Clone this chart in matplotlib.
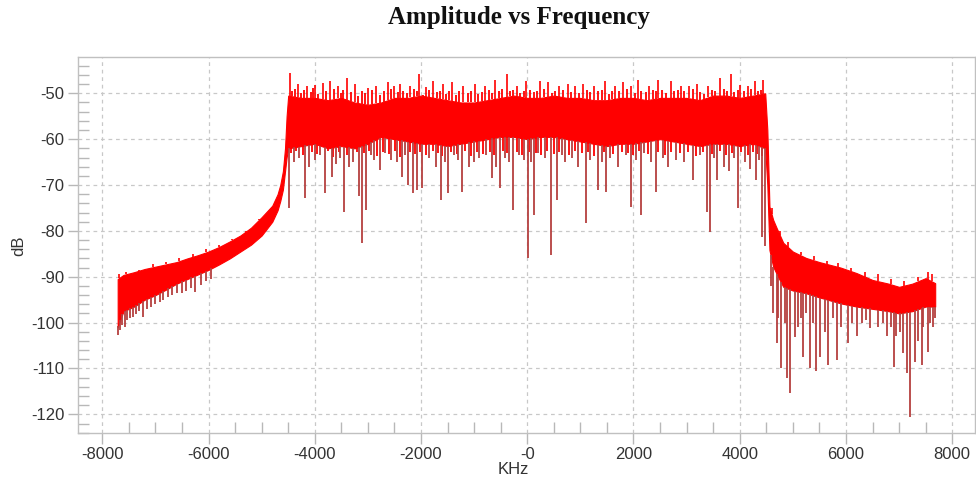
import numpy as np
import matplotlib
matplotlib.use('Agg')
import matplotlib.pyplot as plt
from matplotlib.ticker import MultipleLocator

plt.rcParams['axes.unicode_minus'] = False

# Spectrum: solid core of the band (top / low edge)
band_khz = [-7710, -7650, -7600, -7400, -7200, -7000, -6800, -6600, -6400, -6200,
            -6000, -5800, -5600, -5400, -5200, -5000, -4800, -4700, -4650, -4600,
            -4560, -4530,
            -4500, -4250, -4000, -3750, -3500, -3250, -3000, -2750, -2500, -2250,
            -2000, -1750, -1500, -1250, -1000, -750, -500, -250, 0, 250, 500, 750,
            1000, 1250, 1500, 1750, 2000, 2250, 2500, 2750, 3000, 3250, 3500, 3750,
            4000, 4250, 4480,
            4520, 4560, 4630, 4700, 4820, 5000, 5250, 5500, 5900, 6200, 6500, 6800,
            7000, 7250, 7500, 7680]
band_top = [-90.5, -90, -89.6, -89, -88.3, -87.8, -87.3, -86.8, -86, -85.3,
            -84.5, -83.5, -82.3, -81, -79.3, -77, -74.5, -72, -70, -67,
            -62, -55,
            -50.5, -51, -51, -51.5, -51, -52, -52.5, -52, -51, -51,
            -50.5, -51, -51.5, -52, -52, -51.5, -51, -50.5, -51, -51, -50.5, -51,
            -51, -51.5, -51.5, -51, -51, -51.5, -51, -51, -51, -51.5, -50.5, -50.5,
            -51, -50.5, -50,
            -58, -74.7, -77.6, -79.5, -82.6, -84.5, -85.9, -86.8, -88, -89.2, -90.7, -91.5,
            -92.2, -91.5, -90.3, -91.4]
band_low = [-101, -99, -97.5, -96.5, -95, -94, -92.8, -91.5, -90.5, -89.5,
            -88.5, -87.3, -86, -84.5, -83, -81, -78, -75.5, -73.5, -71,
            -67, -64,
            -62, -61.5, -61, -62, -61.5, -62, -61, -59.5, -60, -60.5,
            -61, -61, -61.5, -61, -60.5, -60, -59.5, -59.5, -60, -59.5, -59.5, -60,
            -60.5, -61, -61.5, -61, -61, -60.5, -60, -60.5, -61, -61.5, -61, -61,
            -61.5, -61, -62,
            -70, -84.2, -87.8, -89.5, -92.2, -93, -93.6, -94.5, -95.8, -96.5, -97, -97.5,
            -98, -97.5, -96.5, -96.5]

# upward peaks
peak_khz = [-7690, -7550, -7300, -7050, -6800, -6550, -6300, -6050, -5800, -5550, -5300, -5050,
            -4467, -4316, -4150, -3990, -3850, -3714, -3560, -3400, -3250, -3000, -2850,
            -2622, -2500, -2396, -2200, -2033, -1900, -1769, -1581, -1423, -1200, -985,
            -800, -608, -388, -200, -24, 239, 395, 600, 772, 900, 1054, 1250, 1463, 1650,
            1807, 1950, 2089, 2300, 2466, 2699, 2900, 3050, 3188, 3400, 3627, 3835, 4000,
            4150, 4287, 4442,
            4600, 4750, 4900, 5150, 5400, 5650, 5850, 6100, 6350, 6600, 6850, 7100, 7350,
            7550, 7620]
peak_db = [-89.5, -89, -88.5, -87.3, -86.8, -86, -85, -84, -83, -81.8, -80, -77.5,
           -45.6, -47.9, -48.5, -48.2, -47.8, -47.3, -48.5, -46.6, -48, -48.8, -48.3,
           -47.6, -48.5, -47.9, -48.5, -45.8, -48.6, -47.3, -48, -47.6, -48.4, -47.9,
           -48.5, -47.2, -45.8, -48.3, -47.3, -47.3, -47.6, -48.5, -48, -48.5, -47.9, -48.4, -47.3, -48.5,
           -47.6, -48.4, -47.2, -48.5, -47.2, -47.3, -48.4, -48.5, -48, -48.3, -46.6, -45.8, -48.2,
           -48.4, -47.3, -47.2,
           -75, -80, -82.5, -84.5, -85.5, -86.5, -87, -88, -89, -89.5, -90.5, -91, -90,
           -89, -89.5]

# small ripples on the top edge of the passband
ripple_top_khz = [-4420, -4370, -4260, -4200, -4080, -4040, -3930, -3790, -3640, -3500,
                  -3460, -3320, -3190, -3120, -3060, -2930, -2780, -2700, -2560, -2440,
                  -2330, -2270, -2130, -2080, -1960, -1840, -1700, -1640, -1520, -1470,
                  -1350, -1280, -1120, -1050, -920, -860, -720, -660, -540, -470,
                  -320, -260, -130, -70, 60, 120, 180, 310, 460, 530,
                  680, 830, 970, 1120, 1180, 1330, 1400, 1530, 1590, 1720,
                  1880, 2020, 2150, 2230, 2360, 2420, 2540, 2620, 2760, 2830,
                  2960, 3120, 3250, 3320, 3470, 3540, 3700, 3770, 3900, 3960,
                  4080, 4220, 4350, 4400]
ripple_top_db = [-49.5, -49, -50, -49.2, -49.8, -48.9, -50.2, -49.4, -49, -50,
                 -49.3, -49.8, -50.5, -49.6, -50, -49.2, -50.4, -49.5, -49, -49.8,
                 -49.4, -50, -49.1, -49.6, -50.3, -49.2, -49.8, -49.5, -50.1, -49.4,
                 -50.3, -49.6, -50, -49.4, -50.2, -49.7, -49.3, -50, -49.5, -49.1,
                 -49.6, -49.3, -50, -49.5, -49.2, -49.8, -49.4, -49.1, -49.9, -49.5,
                 -49.2, -49.7, -50, -49.3, -49.8, -49.5, -49.2, -50.1, -49.6, -49.4,
                 -49.1, -50, -49.4, -49.8, -49.3, -49.6, -49.2, -49.9, -49.5, -49.3,
                 -49.6, -49.1, -49.8, -50.2, -49.3, -49.5, -49, -49.4, -49.7, -49.2,
                 -49.5, -49, -49.4, -49.2]

# small ripples on the low edge of the passband
ripple_low_khz = [-4450, -4350, -4230, -4050, -3950, -3750, -3660, -3550, -3400, -3200,
                  -3080, -2980, -2820, -2720, -2600, -2480, -2400, -2200, -2120, -2020,
                  -1900, -1780, -1680, -1600, -1440, -1330, -1180, -1060, -950, -840,
                  -700, -620, -450, -380, -200, -100, 40, 160, 260, 380,
                  500, 600, 780, 900, 1040, 1140, 1250, 1450, 1620, 1780,
                  1900, 2000, 2100, 2280, 2460, 2600, 2700, 2880, 3020, 3180,
                  3300, 3480, 3620, 3740, 3850, 4020, 4150, 4250, 4330, 4420]
ripple_low_db = [-63, -62.5, -63.5, -62.8, -63.2, -62.6, -63.8, -62.9, -63.4, -62.7,
                 -63.1, -62.5, -63.6, -62.8, -63.3, -62.6, -63.9, -62.7, -63.2, -62.9,
                 -63.5, -62.6, -63, -63.7, -62.8, -63.2, -62.5, -63.6, -62.9, -63.3,
                 -62.7, -63.4, -62.6, -63.1, -62.8, -63.5, -62.7, -63, -63.4, -62.6,
                 -63.2, -62.8, -63.5, -62.6, -63.1, -62.9, -63.6, -62.7, -63.3, -62.8,
                 -63, -63.4, -62.6, -63.2, -62.9, -63.5, -62.7, -63.1, -62.8, -63.6,
                 -62.9, -63.3, -62.6, -63.5, -63, -62.8, -63.4, -62.7, -63.2, -63.6]

# downward dips
dip_khz = [-7700, -7660, -7620, -7580, -7540, -7480, -7420, -7360, -7300, -7230,
           -7150, -7080, -7000, -6920, -6850, -6760, -6680, -6600, -6500, -6420,
           -6330, -6250, -6150, -6050, -5950,
           -4480, -4184, -3808, -3682, -3450, -3168, -3117, -3036, -2773, -2364,
           -2240, -2157, -2082, -1988, -1630, -1487, -1235, -659, -514, -275,
           19, 126, 446, 554, 1099, 1336, 1481, 1952, 2140, 2423,
           3125, 3388, 3438, 3576, 3972, 4305, 4424, 4474,
           -4400, -4300, -4100, -4000, -3900, -3600, -3520, -3350, -3280, -2950,
           -2880, -2680, -2560, -2450, -2300, -1850, -1720, -1550, -1380, -1300,
           -1100, -1000, -900, -780, -580, -420, -340, -150, -60, 80,
           200, 330, 650, 720, 850, 950, 1180, 1400, 1560, 1700,
           1850, 2050, 2200, 2330, 2550, 2650, 2800, 2950, 3250, 3520,
           3700, 3800, 3900, 4100, 4200, 4370,
           4631, 4694, 4770, 4883, 4945, 5039, 5100, 5184, 5322, 5434,
           5510, 5600, 5666, 5824, 5900, 6042, 6200, 6300, 6451, 6600,
           6765, 6903, 6950, 7078, 7142, 7204, 7298, 7350, 7424, 7548, 7631,
           4580, 4730, 4850, 5150, 5250, 5380, 5750, 6120, 6380, 6700,
           6850, 7020, 7450, 7580, 7670]
dip_db = [-102.7, -101.6, -100.5, -101, -99.5, -99, -98.8, -98.2, -97.5, -98.8,
          -97, -96.5, -96, -95.5, -95, -94.5, -94, -93.5, -93.5, -93,
          -92.5, -93.3, -91.8, -91, -90.5,
          -75.1, -72.9, -71.8, -68.2, -75.8, -72.5, -82.7, -75.4, -66.7, -68.2,
          -70, -71.8, -71.1, -70.7, -73.3, -71.8, -71.5, -68.5, -70.7, -75.4,
          -86, -76.5, -85.3, -73.3, -78.3, -71.1, -71.5, -74.7, -76.5, -71.5,
          -68.9, -75.8, -80.2, -68.9, -75.1, -68.9, -81.3, -83.4,
          -65, -64, -66, -64.5, -63.5, -65.5, -64, -66, -65, -63.5,
          -64.5, -63, -64.5, -65, -63.5, -64, -66, -65, -63.5, -64.5,
          -66, -65, -64, -63.5, -66, -64, -65, -63.5, -64.5, -65,
          -63, -64, -63.5, -65, -64, -66, -64.5, -65, -64, -66,
          -63.5, -64.5, -63, -65, -64, -66, -64.5, -65, -63.5, -64,
          -66, -67, -64, -65, -66.5, -64.5,
          -98, -104.5, -110, -112, -115.4, -103.2, -101, -107.6, -110, -110.5,
          -107.6, -102, -109.2, -108.2, -101, -104.5, -103, -100, -101.2, -101,
          -103, -109.6, -103, -106.7, -111, -120.5, -108.5, -104, -109.2, -106.3, -100.9,
          -92, -99, -100, -99, -98, -100, -99, -100, -99.5, -100,
          -101, -102, -101, -100, -99]

x_ticks = [-8000, -6000, -4000, -2000, 0, 2000, 4000, 6000, 8000]
x_tick_labels = ['-8000', '-6000', '-4000', '-2000', '-0', '2000', '4000', '6000', '8000']
y_ticks = [-120, -110, -100, -90, -80, -70, -60, -50]

fig = plt.figure(figsize=(9.76, 4.84), dpi=100)
ax = fig.add_axes([0.0802, 0.1047, 0.9188, 0.7769])

grid_color = '#c8c8c8'
spine_color = '#c0c0c0'
text_color = '#333333'
font = 'Liberation Sans'

ax.set_axisbelow(True)
ax.grid(True, which='major', ls=(0, (3, 3)), color=grid_color, lw=0.9)

# core band
ax.fill_between(band_khz, band_low, band_top, color='red', lw=0.8, edgecolor='red')

# ripples and spikes from the band edges
ax.vlines(ripple_top_khz, np.interp(ripple_top_khz, band_khz, band_top),
          ripple_top_db, color='red', lw=1.3)
ax.vlines(ripple_low_khz, ripple_low_db,
          np.interp(ripple_low_khz, band_khz, band_low), color='red', lw=1.3)
ax.vlines(peak_khz, np.interp(peak_khz, band_khz, band_top), peak_db,
          color='red', lw=1.2)
ax.vlines(dip_khz, dip_db, np.interp(dip_khz, band_khz, band_low),
          color='#b5403f', lw=1.3)

ax.set_xlim(-8452, 8430)
ax.set_ylim(-124.14, -42.15)

ax.set_xticks(x_ticks)
ax.set_xticklabels(x_tick_labels)
ax.set_yticks(y_ticks)
ax.xaxis.set_minor_locator(MultipleLocator(500))
ax.yaxis.set_minor_locator(MultipleLocator(2))

for s in ax.spines.values():
    s.set_color(spine_color)
    s.set_linewidth(1.0)

ax.tick_params(axis='both', which='major', direction='out', color='#b8b8b8',
               labelcolor=text_color, labelsize=12, width=1)
ax.tick_params(axis='x', which='major', length=8, pad=2)
ax.tick_params(axis='y', which='major', length=7, pad=3)
ax.tick_params(axis='both', which='minor', direction='in', length=8,
               color='#b8b8b8', width=1)
for lab in ax.get_xticklabels() + ax.get_yticklabels():
    lab.set_fontfamily(font)

ax.set_xlabel('KHz', fontsize=12, color=text_color, fontfamily=font)
ax.set_ylabel('dB', fontsize=12, color=text_color, fontfamily=font)
ax.xaxis.set_label_coords(0.485, -0.077)
ax.yaxis.set_label_coords(-0.058, 0.5)

fig.text(0.532, 0.963, 'Amplitude vs Frequency', ha='center', va='center',
         fontsize=18, fontweight='bold', fontfamily='Liberation Serif', color='#111111')

fig.savefig('out.png', dpi=100)
